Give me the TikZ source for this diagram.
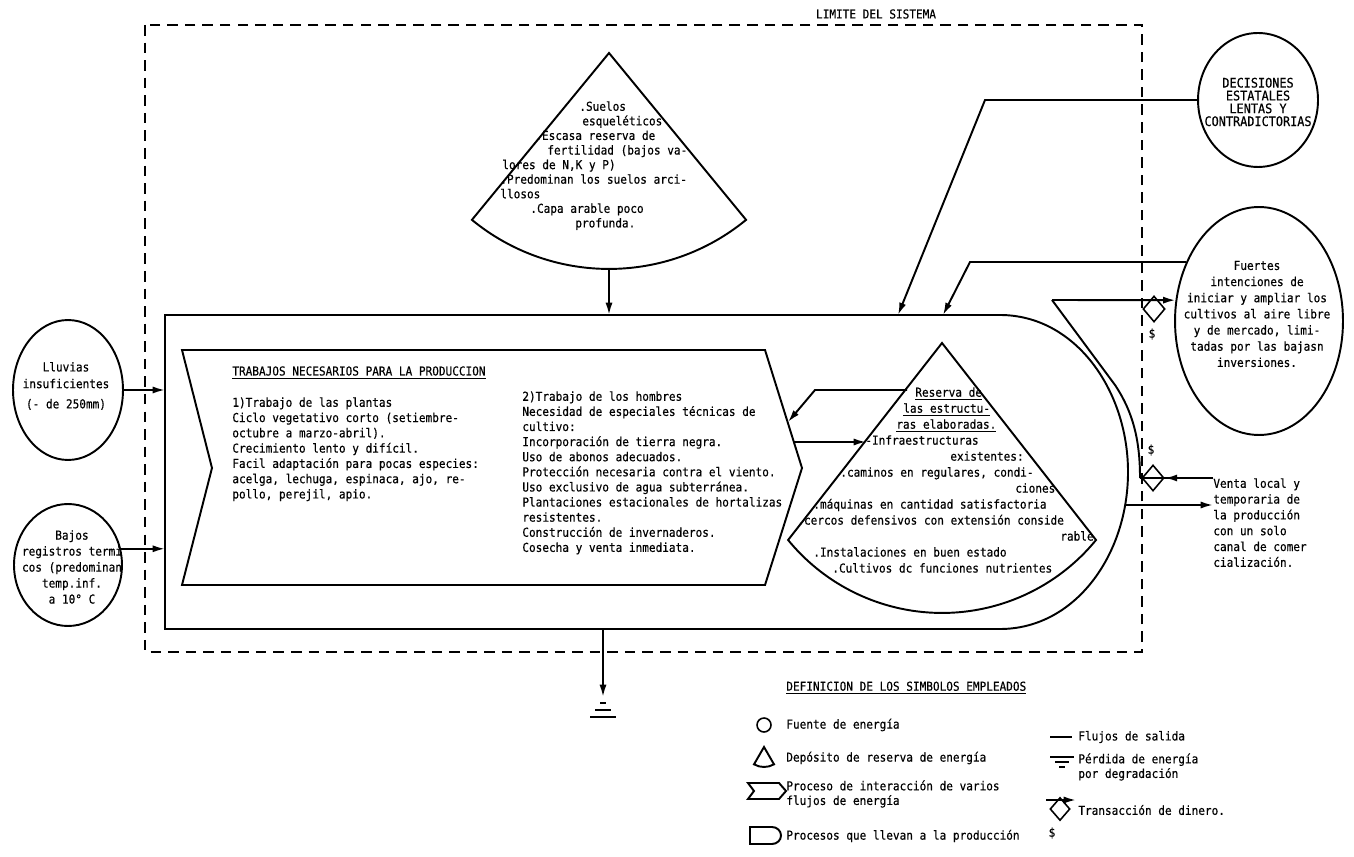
\documentclass[tikz,border=0pt]{standalone}
\usepackage{fontspec}
\newfontfamily\tw[FakeStretch=0.9,FakeBold=0.4]{DejaVu Sans Mono}
\usetikzlibrary{
  arrows.meta,
  positioning,
  shapes.geometric,
  calc
}
\newdimen\pxu \pxu=0.02cm
\newcommand{\ind}[1]{\hspace*{#1\pxu}}
% reserve tank: apex, right corner, start/end angle, radius
\newcommand{\tank}[5]{%
  \draw[line] #1 -- #2 arc[start angle=#3, end angle=#4, radius=#5] -- cycle;%
}

\begin{document}
\begin{tikzpicture}[x=0.02cm,y=-0.02cm,
  line/.style={line width=1.1pt},
  flow/.style={line width=1.1pt,-{Latex[length=7pt,width=4pt]}},
  txt/.style={font=\tw\fontsize{7}{8.7}\selectfont,inner sep=0pt,align=left},
  src/.style={draw,ellipse,line width=1.1pt,inner sep=0pt},
  money/.style={draw,diamond,line width=0.9pt,inner sep=0pt,minimum width=0.44cm,minimum height=0.52cm}]

  \useasboundingbox (0,0) rectangle (1354,857);

  % system boundary
  \draw[line width=1.1pt,dash pattern=on 6pt off 4pt] (145,25) rectangle (1142,652);
  \node[txt] (limite) at (876,14) {LIMITE DEL SISTEMA};

  % energy sources
  \node[src,minimum width=2.4cm,minimum height=2.68cm] (decis) at (1258,100) {};
  \node[txt,align=center,font=\tw\fontsize{7.5}{7.3}\selectfont] (decisT) at (1258,102)
    {DECISIONES\\ESTATALES\\LENTAS Y\\CONTRADICTORIAS};

  \node[src,minimum width=3.36cm,minimum height=4.56cm] (fuertes) at (1259,321) {};
  \node[txt,align=center,font=\tw\fontsize{7}{9.2}\selectfont] (fuertesT) at (1257,314)
    {Fuertes\\intenciones de\\iniciar y ampliar los\\cultivos al aire libre\\y de mercado, limi-\\tadas por las bajasn\\inversiones.};

  \node[src,minimum width=2.2cm,minimum height=2.8cm] (lluvias) at (68,390) {};
  \node[txt,align=center,font=\tw\fontsize{7}{9.5}\selectfont] (lluviasT) at (66,386)
    {Lluvias\\insuficientes\\[2pt](- de 250mm)};

  \node[src,minimum width=2.16cm,minimum height=2.44cm] (bajos) at (68,565) {};
  \node[txt,align=center,font=\tw\fontsize{7}{9.1}\selectfont] (bajosT) at (72,567)
    {Bajos\\registros termi\\cos (predominan\\temp.inf.\\a 10° C};

  % production process
  \draw[line] (165,315) -- (1000,315) .. controls (1075,315) and (1128,390) .. (1128,472)
    .. controls (1128,555) and (1075,629) .. (1000,629) -- (165,629) -- cycle;
  \coordinate (boxW) at (165,0);
  \coordinate (boxN) at (0,315);

  % interaction of flows
  \draw[line] (182,350) -- (765,350) -- (802,468) -- (765,585) -- (182,585) -- (212,468) -- cycle;
  \node[txt,anchor=north west] (trabT) at (232,366) {\underline{TRABAJOS NECESARIOS PARA LA PRODUCCION}};
  \node[txt,anchor=north west] (plantasT) at (232,397)
    {1)Trabajo de las plantas\\
     Ciclo vegetativo corto (setiembre-\\
     octubre a marzo-abril).\\
     Crecimiento lento y difícil.\\
     Facil adaptación para pocas especies:\\
     acelga, lechuga, espinaca, ajo, re-\\
     pollo, perejil, apio.};
  \node[txt,anchor=north west,font=\tw\fontsize{7}{8.6}\selectfont] (hombresT) at (522,391)
    {2)Trabajo de los hombres\\
     Necesidad de especiales técnicas de\\
     cultivo:\\
     Incorporación de tierra negra.\\
     Uso de abonos adecuados.\\
     Protección necesaria contra el viento.\\
     Uso exclusivo de agua subterránea.\\
     Plantaciones estacionales de hortalizas\\
     resistentes.\\
     Construcción de invernaderos.\\
     Cosecha y venta inmediata.};

  % soil reserve
  \tank{(609,53)}{++(-50.6:4.32cm)}{-50.6}{-129.4}{4.32cm}
  \coordinate (soilB) at (609,269);
  \node[txt,anchor=north west,font=\tw\fontsize{7}{8.3}\selectfont] (soilT) at (500,101)
    {\ind{79}.Suelos\\
     \ind{82}esqueléticos\\
     \ind{35}.Escasa reserva de\\
     \ind{47}fertilidad (bajos va-\\
     \ind{2}lores de N,K y P)\\
     .Predominan los suelos arci-\\
     llosos\\
     \ind{30}.Capa arable poco\\
     \ind{75}profunda.};

  % reserve of structures
  \tank{(942,343)}{(1096,540)}{-39.3}{-140.7}{3.98cm}
  \node[txt,anchor=north west,font=\tw\fontsize{7}{9.1}\selectfont] (reservaT) at (797,387)
    {\ind{118}\underline{Reserva de}\\
     \ind{106}\underline{las estructu-}\\
     \ind{99}\underline{ras elaboradas.}\\
     \ind{68}-Infraestructuras\\
     \ind{153}existentes:\\
     \ind{43}.caminos en regulares, condi-\\
     \ind{218}ciones\\
     \ind{16}.máquinas en cantidad satisfactoria\\
     .cercos defensivos con extensión conside\\
     \ind{263}rable\\
     \ind{16}.Instalaciones en buen estado\\
     \ind{35}.Cultivos dc funciones nutrientes};

  % inflows
  \draw[flow] (lluvias.east) -- (lluvias.east -| boxW);
  \draw[flow] (bajos.17) -- (bajos.17 -| boxW);
  \draw[flow] (soilB) -- (soilB |- boxN);
  \coordinate (dk) at (985,100);
  \coordinate (inD) at (898,315);
  \draw[flow] (decis.west) -- (dk) -- (inD);
  \coordinate (fk) at (970,262);
  \coordinate (inF) at (943,315);
  \draw[flow] (fuertes.141) -- (fuertes.141 -| fk) -- (inF);

  % exchange with the reserve
  \coordinate (rsA) at (907,390);
  \coordinate (rk) at (815,390);
  \coordinate (cvA) at (788,422);
  \draw[flow] (rsA) -- (rk) -- (cvA);
  \coordinate (cvB) at (794,442);
  \coordinate (rsB) at (866,442);
  \draw[flow] (cvB) -- (rsB);

  % money and market
  \coordinate (ftop) at (1052,300);
  \coordinate (mk) at (1140,478);
  \draw[line] (ftop) -- (1115,385) .. controls (1133,412) and (1140,440) .. (mk);
  \node[money] (dia1) at (1154,309) {};
  \node[txt] (usd1) at (1152,334) {\$};
  \draw[flow] (ftop) -- (fuertes.166);

  \node[txt,anchor=north west,font=\tw\fontsize{7}{9}\selectfont] (venta) at (1213,478)
    {Venta local y\\temporaria de\\la producción\\con un solo\\canal de comer\\cialización.};
  \node[money] (dia2) at (1153,478) {};
  \node[txt] (usd2) at (1151,450) {\$};
  \draw[line] (venta.north west) -- (mk);
  \draw[flow] (venta.north west) -- (dia2.east);
  \coordinate (outV) at (1126,505);
  \draw[flow] (outV) -- (outV -| venta.west);

  % heat sink
  \coordinate (outS) at (603,629);
  \coordinate (sink) at (603,697);
  \draw[flow] (outS) -- (sink);
  \draw[line] (sink) ++(-3,6) -- ++(6,0) (sink) ++(-8,13) -- ++(16,0) (sink) ++(-13,20) -- ++(26,0);

  % legend
  \node[txt,anchor=west] (legT) at (786,688) {\underline{DEFINICION DE LOS SIMBOLOS EMPLEADOS}};
  \node[draw,circle,line width=0.9pt,minimum size=0.28cm,inner sep=0pt] (legC) at (764,725) {};
  \node[txt,anchor=west] (legCT) at (786,725) {Fuente de energía};
  \tank{(764,747)}{++(-60:0.4cm)}{-60}{-120}{0.4cm}
  \node[txt,anchor=west] (legDT) at (786,758) {Depósito de reserva de energía};
  \draw[line] (748,783) -- (779,783) -- (786,791) -- (779,799) -- (748,799) -- (754,791) -- cycle;
  \node[txt,anchor=west,font=\tw\fontsize{7}{8.3}\selectfont] (legPT) at (786,794)
    {Proceso de interacción de varios\\flujos de energía};
  \draw[line] (750,827) -- (772,827) arc[start angle=90,end angle=-90,x radius=0.18cm,y radius=0.17cm] -- (750,844) -- cycle;
  \node[txt,anchor=west] (legRT) at (786,836) {Procesos que llevan a la producción};

  \draw[line] (1050,737) -- (1072,737);
  \node[txt,anchor=west] (legFT) at (1078,737) {Flujos de salida};
  \draw[line] (1050,757) -- (1074,757) (1055,762) -- (1069,762) (1059,767) -- (1065,767);
  \node[txt,anchor=west,font=\tw\fontsize{7}{8.3}\selectfont] (legST) at (1078,767)
    {Pérdida de energía\\por degradación};
  \node[money,minimum width=0.4cm,minimum height=0.46cm] (legM) at (1060,809) {};
  \draw[flow] (1046,800) -- (1076,800);
  \node[txt] (legUsd) at (1052,833) {\$};
  \node[txt,anchor=west] (legMT) at (1078,810) {Transacción de dinero.};

\end{tikzpicture}
\end{document}
